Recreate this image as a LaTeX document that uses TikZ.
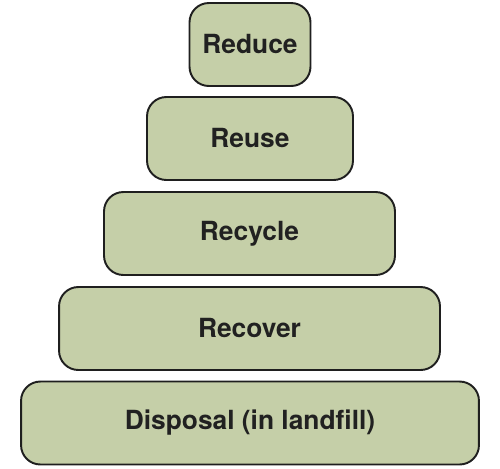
\documentclass[tikz,border=0pt]{standalone}
\usepackage{fontspec}
\setmainfont{TeX Gyre Heros}
\begin{document}
\begin{tikzpicture}[x=0.02cm,y=-0.02cm,
  tier/.style={draw=black!88, line width=1.1pt, fill=tierfill, rounded corners=11pt,
    minimum height=1.66cm, inner sep=0pt, text=black!87,
    font=\fontsize{15}{17}\selectfont\bfseries}]
\definecolor{tierfill}{HTML}{C5CFA8}
\useasboundingbox (0,0) rectangle (500,468);
\node[tier, minimum width=2.42cm] (reduce) at (250,44.5) {Reduce};
\node[tier, minimum width=4.12cm] (reuse) at (250,138.5) {Reuse};
\node[tier, minimum width=5.82cm] (recycle) at (249.5,233.5) {Recycle};
\node[tier, minimum width=7.62cm] (recover) at (249.5,328.5) {Recover};
\node[tier, minimum width=9.16cm] (disposal) at (250,423) {Disposal (in landfill)};
\end{tikzpicture}
\end{document}
